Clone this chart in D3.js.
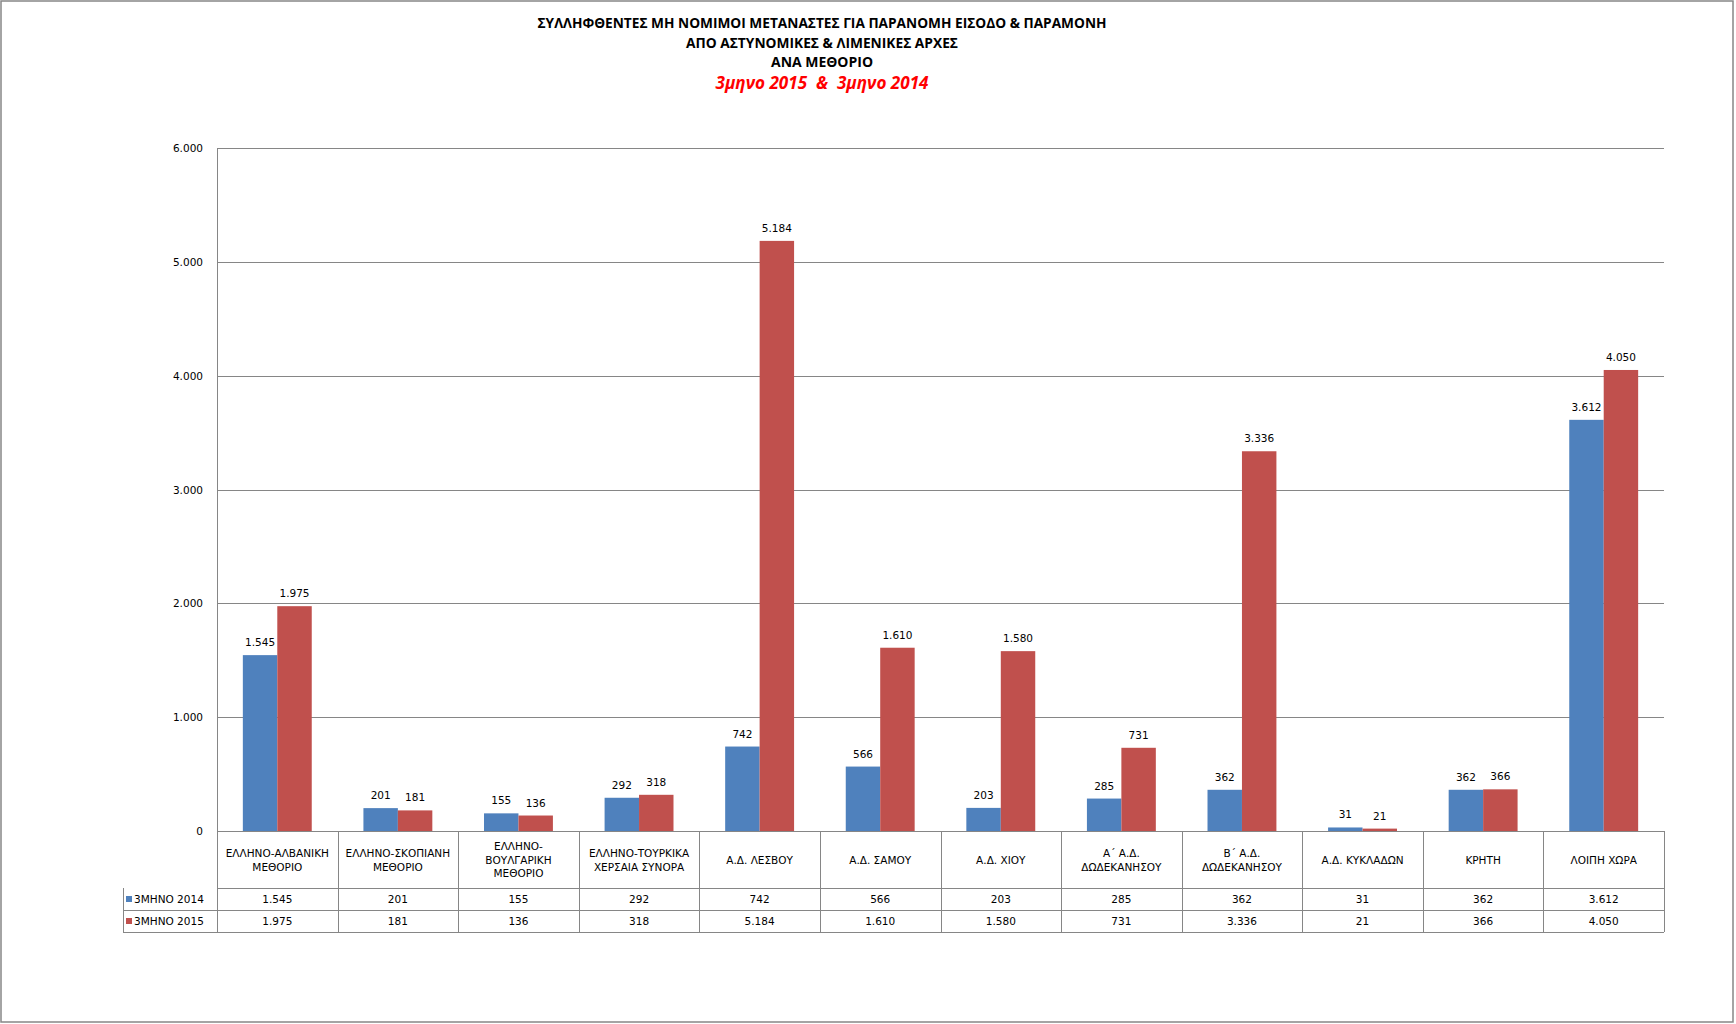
<!DOCTYPE html>
<html>
<head>
<meta charset="utf-8">
<script src="https://cdn.jsdelivr.net/npm/d3@7"></script>
<style>
  body { margin: 0; background: #fff; }
  svg { display: block; }
</style>
</head>
<body>
<script>
// data
var categories = [
  ["ΕΛΛΗΝΟ-ΑΛΒΑΝΙΚΗ", "ΜΕΘΟΡΙΟ"],
  ["ΕΛΛΗΝΟ-ΣΚΟΠΙΑΝΗ", "ΜΕΘΟΡΙΟ"],
  ["ΕΛΛΗΝΟ-", "ΒΟΥΛΓΑΡΙΚΗ", "ΜΕΘΟΡΙΟ"],
  ["ΕΛΛΗΝΟ-ΤΟΥΡΚΙΚΑ", "ΧΕΡΣΑΙΑ ΣΥΝΟΡΑ"],
  ["Α.Δ. ΛΕΣΒΟΥ"],
  ["Α.Δ. ΣΑΜΟΥ"],
  ["Α.Δ. ΧΙΟΥ"],
  ["Α΄ Α.Δ.", "ΔΩΔΕΚΑΝΗΣΟΥ"],
  ["Β΄ Α.Δ.", "ΔΩΔΕΚΑΝΗΣΟΥ"],
  ["Α.Δ. ΚΥΚΛΑΔΩΝ"],
  ["ΚΡΗΤΗ"],
  ["ΛΟΙΠΗ ΧΩΡΑ"]
];
var seriesNames = ["3ΜΗΝΟ 2014", "3ΜΗΝΟ 2015"];
var values2014 = [1545, 201, 155, 292, 742, 566, 203, 285, 362, 31, 362, 3612];
var values2015 = [1975, 181, 136, 318, 5184, 1610, 1580, 731, 3336, 21, 366, 4050];
var yTicks = [0, 1000, 2000, 3000, 4000, 5000, 6000];
var titleLines = [
  "ΣΥΛΛΗΦΘΕΝΤΕΣ ΜΗ ΝΟΜΙΜΟΙ ΜΕΤΑΝΑΣΤΕΣ ΓΙΑ ΠΑΡΑΝΟΜΗ ΕΙΣΟΔΟ & ΠΑΡΑΜΟΝΗ",
  "ΑΠΟ ΑΣΤΥΝΟΜΙΚΕΣ & ΛΙΜΕΝΙΚΕΣ ΑΡΧΕΣ",
  "ΑΝΑ ΜΕΘΟΡΙΟ"
];
var subTitle = "3μηνο 2015  &  3μηνο 2014";

var w = 1736, h = 1024;
var colors = ["#4F81BD", "#C0504D"];
var lineGray = "#868686";
var font = "'DejaVu Sans', Tahoma, sans-serif";
var fmt = function(v) { return d3.format(",")(v).replace(/,/g, "."); };

var plotLeft = 217, plotRight = 1664, plotTop = 148, plotBottom = 831;
var tableLeft = 123;
var rowBottoms = [888, 910, 932];

var svg = d3.select("body")
            .append("svg")
            .attr("width", w)
            .attr("height", h);

// outer frame
svg.append("rect")
   .attr("x", 1).attr("y", 1)
   .attr("width", 1732).attr("height", 1021)
   .attr("fill", "white")
   .attr("stroke", lineGray)
   .attr("stroke-width", 1.5);

// title
var titleW = [569, 272, 102];
var titleX = 822;
svg.selectAll("text.title")
   .data(titleLines)
   .enter()
   .append("text")
   .attr("class", "title")
   .attr("x", titleX)
   .attr("y", function(d, i) { return 28 + i * 19.5; })
   .attr("text-anchor", "middle")
   .attr("font-family", "'Open Sans', sans-serif")
   .attr("font-weight", "bold")
   .attr("font-size", "14px")
   .attr("textLength", function(d, i) { return titleW[i]; })
   .attr("lengthAdjust", "spacingAndGlyphs")
   .text(function(d) { return d; });

svg.append("text")
   .attr("x", titleX)
   .attr("y", 89)
   .attr("text-anchor", "middle")
   .attr("font-family", "'Open Sans', sans-serif")
   .attr("font-weight", "bold")
   .attr("font-style", "italic")
   .attr("font-size", "17px")
   .attr("fill", "#FF0000")
   .attr("textLength", 213)
   .attr("lengthAdjust", "spacingAndGlyphs")
   .style("white-space", "pre")
   .text(subTitle);

// scales
var x0 = d3.scaleBand()
           .domain(d3.range(categories.length))
           .range([plotLeft, plotRight])
           .paddingInner(0)
           .paddingOuter(0);
var cw = x0.bandwidth();
var barW = cw / 3.5;

var y = d3.scaleLinear().domain([0, 6000]).range([plotBottom, plotTop]);

// gridlines
svg.selectAll("line.grid")
   .data(yTicks)
   .enter()
   .append("line")
   .attr("class", "grid")
   .attr("x1", plotLeft).attr("x2", plotRight)
   .attr("y1", function(d) { return Math.round(y(d)) + 0.5; })
   .attr("y2", function(d) { return Math.round(y(d)) + 0.5; })
   .attr("stroke", lineGray)
   .attr("stroke-width", 1);

svg.append("line")
   .attr("x1", plotLeft + 0.5).attr("x2", plotLeft + 0.5)
   .attr("y1", plotTop).attr("y2", plotBottom)
   .attr("stroke", lineGray);

// y labels
svg.selectAll("text.ytick")
   .data(yTicks)
   .enter()
   .append("text")
   .attr("class", "ytick")
   .attr("x", 203)
   .attr("y", function(d) { return y(d) + 4; })
   .attr("text-anchor", "end")
   .attr("font-family", font)
   .attr("font-size", "10.5px")
   .attr("fill", "#000")
   .text(fmt);

// bars
var series = [values2014, values2015];
series.forEach(function(vals, s) {
  svg.selectAll("rect.s" + s)
     .data(vals)
     .enter()
     .append("rect")
     .attr("class", "s" + s)
     .attr("x", function(d, i) { return x0(i) + barW * 0.75 + s * barW; })
     .attr("y", function(d) { return y(d); })
     .attr("width", barW)
     .attr("height", function(d) { return plotBottom - y(d); })
     .attr("fill", colors[s]);

  svg.selectAll("text.v" + s)
     .data(vals)
     .enter()
     .append("text")
     .attr("class", "v" + s)
     .attr("x", function(d, i) { return x0(i) + barW * 0.75 + s * barW + barW / 2; })
     .attr("y", function(d) { return y(d) - 9; })
     .attr("text-anchor", "middle")
     .attr("font-family", font)
     .attr("font-size", "10.5px")
     .attr("fill", "#000")
     .text(fmt);
});

// data table
var tbl = svg.append("g").attr("stroke", lineGray).attr("stroke-width", 1);
tbl.append("line").attr("x1", plotLeft).attr("x2", plotRight)
   .attr("y1", plotBottom + 0.5).attr("y2", plotBottom + 0.5);
rowBottoms.forEach(function(yy, i) {
  tbl.append("line")
     .attr("x1", i == 0 ? plotLeft : tableLeft).attr("x2", plotRight)
     .attr("y1", yy + 0.5).attr("y2", yy + 0.5);
});
tbl.append("line").attr("x1", tableLeft + 0.5).attr("x2", tableLeft + 0.5)
   .attr("y1", rowBottoms[0]).attr("y2", rowBottoms[2]);
d3.range(categories.length + 1).forEach(function(i) {
  var xx = Math.round(plotLeft + i * cw);
  tbl.append("line")
     .attr("x1", xx + 0.5).attr("x2", xx + 0.5)
     .attr("y1", plotBottom).attr("y2", rowBottoms[2]);
});

// category labels
var catG = svg.selectAll("g.cat")
   .data(categories)
   .enter()
   .append("g")
   .attr("class", "cat");
catG.each(function(lines, i) {
  var lh = lines.length > 2 ? 13.3 : 14;
  var cy = (plotBottom + rowBottoms[0]) / 2;
  d3.select(this).selectAll("text")
    .data(lines)
    .enter()
    .append("text")
    .attr("x", x0(i) + cw / 2)
    .attr("y", function(d, k) { return cy + (k - (lines.length - 1) / 2) * lh + 4; })
    .attr("text-anchor", "middle")
    .attr("font-family", font)
    .attr("font-size", "10.5px")
    .attr("fill", "#000")
    .text(function(d) { return d; });
});

// value rows
series.forEach(function(vals, s) {
  var cy = (rowBottoms[s] + rowBottoms[s + 1]) / 2;
  svg.append("rect")
     .attr("x", tableLeft + 3).attr("y", cy - 3)
     .attr("width", 6).attr("height", 6)
     .attr("fill", colors[s]);
  svg.append("text")
     .attr("x", tableLeft + 11).attr("y", cy + 4)
     .attr("font-family", font)
     .attr("font-size", "10.5px")
     .text(seriesNames[s]);
  svg.selectAll("text.r" + s)
     .data(vals)
     .enter()
     .append("text")
     .attr("class", "r" + s)
     .attr("x", function(d, i) { return x0(i) + cw / 2; })
     .attr("y", cy + 4)
     .attr("text-anchor", "middle")
     .attr("font-family", font)
     .attr("font-size", "10.5px")
     .text(fmt);
});
</script>
</body>
</html>
